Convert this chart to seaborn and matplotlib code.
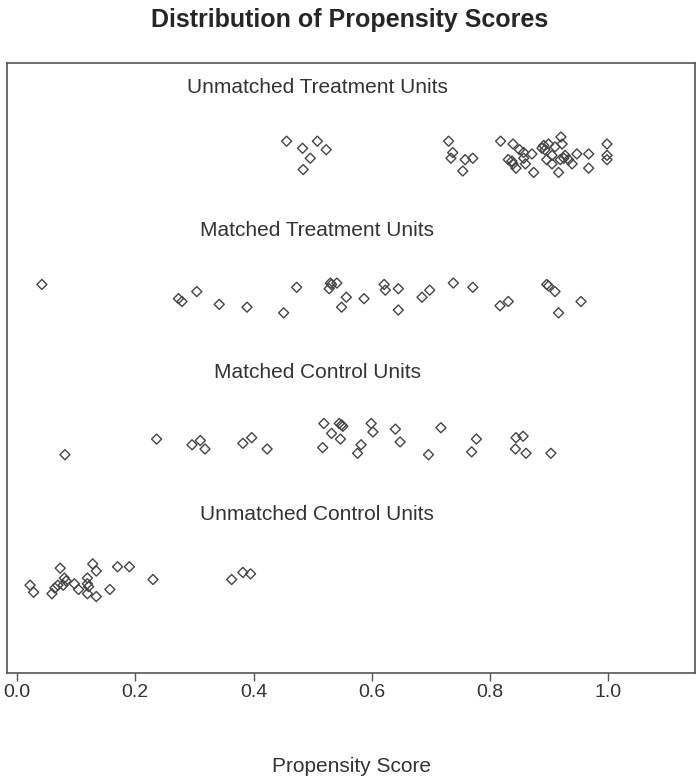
import pandas as pd
import seaborn as sns
import matplotlib.pyplot as plt

# propensity scores (x) and jittered vertical positions (y) for each group
ut_score = [0.456, 0.483, 0.508, 0.523, 0.496, 0.484, 0.730, 0.737, 0.734, 0.758,
            0.771, 0.754, 0.818, 0.839, 0.850, 0.857, 0.871, 0.831, 0.837, 0.839,
            0.844, 0.857, 0.860, 0.874, 0.891, 0.888, 0.893, 0.899, 0.905, 0.910,
            0.920, 0.922, 0.896, 0.905, 0.919, 0.927, 0.925, 0.933, 0.939, 0.916,
            0.947, 0.967, 0.967, 0.998, 0.998, 0.998]
ut_jit = [3.75, 3.70, 3.75, 3.69, 3.63, 3.55, 3.75, 3.67, 3.63, 3.62,
          3.63, 3.54, 3.75, 3.73, 3.69, 3.67, 3.66, 3.62, 3.61, 3.59,
          3.56, 3.63, 3.59, 3.53, 3.72, 3.70, 3.69, 3.73, 3.65, 3.71,
          3.78, 3.73, 3.62, 3.59, 3.62, 3.65, 3.63, 3.62, 3.59, 3.53,
          3.66, 3.66, 3.56, 3.73, 3.65, 3.62]

mt_score = [0.042, 0.273, 0.279, 0.304, 0.342, 0.389, 0.451, 0.473, 0.528, 0.530,
            0.532, 0.541, 0.557, 0.549, 0.587, 0.621, 0.623, 0.645, 0.645, 0.685,
            0.698, 0.738, 0.771, 0.817, 0.831, 0.896, 0.899, 0.910, 0.916, 0.954]
mt_jit = [2.74, 2.64, 2.62, 2.69, 2.60, 2.58, 2.54, 2.72, 2.71, 2.75,
          2.74, 2.75, 2.65, 2.58, 2.64, 2.74, 2.70, 2.71, 2.56, 2.65,
          2.70, 2.75, 2.72, 2.59, 2.62, 2.74, 2.73, 2.69, 2.54, 2.62]

mc_score = [0.081, 0.236, 0.296, 0.310, 0.318, 0.382, 0.397, 0.423, 0.519, 0.517,
            0.532, 0.545, 0.549, 0.551, 0.547, 0.599, 0.602, 0.582, 0.576, 0.640,
            0.648, 0.696, 0.717, 0.777, 0.769, 0.844, 0.856, 0.843, 0.861, 0.903]
mc_jit = [1.54, 1.65, 1.61, 1.64, 1.58, 1.62, 1.66, 1.58, 1.76, 1.59,
          1.69, 1.76, 1.75, 1.74, 1.65, 1.76, 1.70, 1.61, 1.55, 1.72,
          1.63, 1.54, 1.73, 1.65, 1.56, 1.66, 1.67, 1.58, 1.55, 1.55]

uc_score = [0.022, 0.028, 0.059, 0.064, 0.069, 0.073, 0.080, 0.083, 0.078, 0.097,
            0.104, 0.119, 0.119, 0.121, 0.119, 0.134, 0.128, 0.134, 0.157, 0.170,
            0.190, 0.230, 0.363, 0.382, 0.395]
uc_jit = [0.62, 0.57, 0.56, 0.60, 0.62, 0.74, 0.67, 0.65, 0.62, 0.63,
          0.59, 0.67, 0.63, 0.61, 0.56, 0.54, 0.77, 0.72, 0.59, 0.75,
          0.75, 0.66, 0.66, 0.71, 0.70]

group_labels = ["Unmatched Treatment Units", "Matched Treatment Units",
                "Matched Control Units", "Unmatched Control Units"]
label_y = [4.13, 3.12, 2.12, 1.12]
x_ticks = [0.0, 0.2, 0.4, 0.6, 0.8, 1.0]

df = pd.concat([
    pd.DataFrame({"score": ut_score, "y": ut_jit, "group": group_labels[0]}),
    pd.DataFrame({"score": mt_score, "y": mt_jit, "group": group_labels[1]}),
    pd.DataFrame({"score": mc_score, "y": mc_jit, "group": group_labels[2]}),
    pd.DataFrame({"score": uc_score, "y": uc_jit, "group": group_labels[3]}),
])

sns.set_style("white")
plt.rcParams['font.family'] = ['Liberation Sans', 'DejaVu Sans']

fig = plt.figure(figsize=(7, 7.8), dpi=100)
ax = fig.add_axes([0.01, 0.137, 0.983, 0.782])

sns.scatterplot(data=df, x="score", y="y", marker="D", s=26,
                facecolor="none", edgecolor="#444444", linewidth=1.0,
                legend=False, ax=ax)

for lab, ly in zip(group_labels, label_y):
    ax.text(0.508, ly, lab, ha="center", va="center", fontsize=15, color="#333333")

ax.set_xlim(-0.017, 1.147)
ax.set_ylim(0, 4.3)
ax.set_yticks([])
ax.set_xticks(x_ticks)
ax.set_xticklabels([f"{t:.1f}" for t in x_ticks], fontsize=14, color="#333333")
ax.tick_params(axis="x", bottom=True, direction="out", length=6, width=1,
               color="#555555", pad=2)
for sp in ax.spines.values():
    sp.set_color("#555555")
    sp.set_linewidth(1.2)

ax.set_xlabel("Propensity Score", fontsize=15, color="#333333", labelpad=40)
ax.set_ylabel("")
fig.suptitle("Distribution of Propensity Scores", fontsize=18, fontweight="bold",
             y=0.99)

fig.savefig("out.png", dpi=100)
